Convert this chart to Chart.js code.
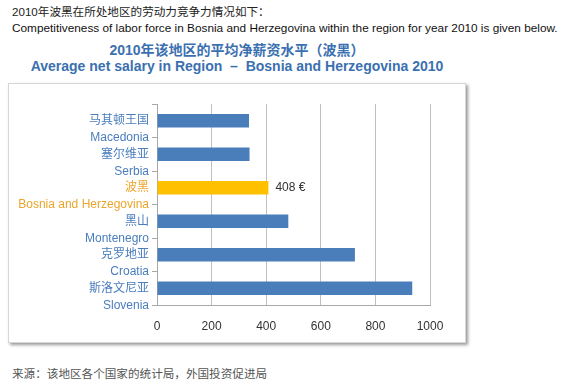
<!DOCTYPE html>
<html>
<head>
<meta charset="utf-8">
<script src="https://cdn.jsdelivr.net/npm/chart.js@4"></script>
<style>
  body { margin: 0; background: #fff; width: 564px; height: 384px; position: relative; overflow: hidden;
         font-family: 'Liberation Sans', 'Noto Sans CJK SC', sans-serif; }
  .txt { position: absolute; white-space: pre; line-height: 14px; }
  #intro-zh { left: 12px; top: 5px; font-size: 11.6px; color: #222; }
  #intro-en { left: 12px; top: 21px; font-size: 11.8px; color: #111; }
  .title { position: absolute; left: 9px; width: 456px; text-align: center; font-weight: bold;
           font-size: 14px; line-height: 16px; color: #3b70b0; white-space: pre; }
  #title-zh { top: 42px; }
  #title-en { top: 58px; }
  #frame { position: absolute; left: 8px; top: 83px; width: 456px; height: 258px;
           border: 1px solid #d6d6d6; box-shadow: 2px 2px 3px #9a9a9a; background: #fff; }
  #footer { left: 12px; top: 367px; font-size: 11.6px; color: #555; }
</style>
</head>
<body>
<div class="txt" id="intro-zh">2010年波黑在所处地区的劳动力竞争力情况如下：</div>
<div class="txt" id="intro-en">Competitiveness of labor force in Bosnia and Herzegovina within the region for year 2010 is given below.</div>
<div class="title" id="title-zh">2010年该地区的平均净薪资水平（波黑）</div>
<div class="title" id="title-en">Average net salary in Region  –  Bosnia and Herzegovina 2010</div>
<div id="frame"><canvas id="chart" width="456" height="258"></canvas></div>
<div class="txt" id="footer">来源：该地区各个国家的统计局，外国投资促进局</div>

<script>
// data
const countriesZh = ['马其顿王国', '塞尔维亚', '波黑', '黑山', '克罗地亚', '斯洛文尼亚'];
const countriesEn = ['Macedonia', 'Serbia', 'Bosnia and Herzegovina', 'Montenegro', 'Croatia', 'Slovenia'];
const salaries = [337, 339, 408, 481, 725, 935];
const highlight = 'Bosnia and Herzegovina';
const highlightLabel = '408 €';
const xMax = 1000;
const xStep = 200;

const blue = '#4a7ebb';
const gold = '#ffc000';
const blueText = '#4a7dbd';
const goldText = '#eba52d';
const fontFamily = "'Liberation Sans', 'Noto Sans CJK SC', sans-serif";

const hiIndex = countriesEn.indexOf(highlight);

const valueLabel = {
    id: 'valueLabel',
    afterDatasetsDraw(chart) {
        const ctx = chart.ctx;
        const bar = chart.getDatasetMeta(0).data[hiIndex];
        ctx.save();
        ctx.font = '12px ' + fontFamily;
        ctx.fillStyle = '#333';
        ctx.textBaseline = 'middle';
        ctx.textAlign = 'left';
        ctx.fillText(highlightLabel, bar.x + 7, bar.y);
        ctx.restore();
    }
};

new Chart(document.getElementById('chart'), {
    type: 'bar',
    data: {
        labels: countriesZh.map((zh, i) => [zh, countriesEn[i]]),
        datasets: [{
            data: salaries,
            backgroundColor: countriesEn.map(c => c === highlight ? gold : blue),
            borderWidth: 0,
            barPercentage: 0.4,
            categoryPercentage: 1
        }]
    },
    options: {
        indexAxis: 'y',
        responsive: false,
        animation: false,
        layout: { padding: { top: 11, right: 35, left: 0, bottom: 0 } },
        plugins: { legend: { display: false }, tooltip: { enabled: false } },
        scales: {
            x: {
                min: 0,
                max: xMax,
                ticks: {
                    stepSize: xStep,
                    padding: 14,
                    color: '#333',
                    font: { family: fontFamily, size: 12 },
                    callback: v => String(v)
                },
                grid: { color: '#c0c0c0', drawTicks: false },
                border: { color: '#a8a8a8' },
                afterFit(scale) { scale.height = 37; }
            },
            y: {
                ticks: {
                    autoSkip: false,
                    padding: 3,
                    labelOffset: 8.5,
                    color: ctx => ctx.index === hiIndex ? goldText : blueText,
                    font: { family: fontFamily, size: 12, lineHeight: 17 / 12 }
                },
                grid: { offset: true, drawOnChartArea: false, drawTicks: true, tickLength: 5, color: '#a8a8a8' },
                border: { color: '#a8a8a8' },
                afterFit(scale) { scale.width = 148; }
            }
        }
    },
    plugins: [valueLabel]
});
</script>
</body>
</html>
